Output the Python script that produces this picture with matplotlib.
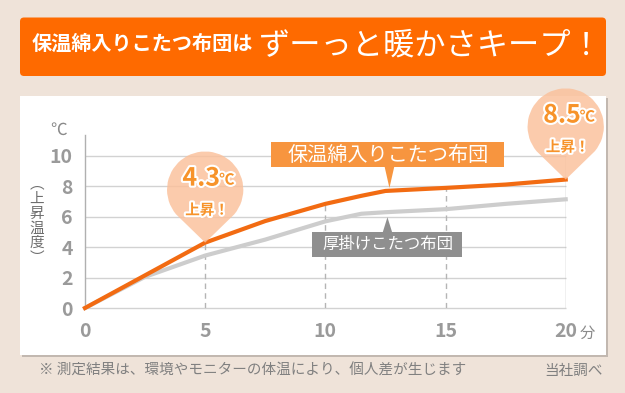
import numpy as np
import matplotlib
matplotlib.use("Agg")
import matplotlib.pyplot as plt
from matplotlib import patheffects, transforms
from matplotlib.path import Path
from matplotlib.patches import PathPatch, Rectangle, FancyBboxPatch, Polygon

plt.rcParams["font.family"] = ["Noto Sans CJK JP", "DejaVu Sans"]

# temperature rise (deg C) against minutes
minutes = [0, 2.5, 5, 7.5, 10, 11.5, 12.5, 15, 17.5, 20]
hozon_wata = [0, 2.15, 4.3, 5.72, 6.85, 7.38, 7.7, 7.9, 8.12, 8.45]
atsukake = [0, 2.05, 3.45, 4.5, 5.7, 6.2, 6.3, 6.5, 6.85, 7.15]

x_ticks = [0, 5, 10, 15, 20]
y_ticks = [0, 2, 4, 6, 8, 10]
dashed_at = [5, 10, 15]
bubble_at = [5, 20]
bubble_text = ["4.3", "8.5"]

title_small = "保温綿入りこたつ布団は"
title_big = "ずーっと暖かさキープ！"
label_hozon = "保温綿入りこたつ布団"
label_atsu = "厚掛けこたつ布団"
y_label = "︵\n上\n昇\n温\n度\n︶"
note = "※ 測定結果は、環境やモニターの体温により、個人差が生じます"
source = "当社調べ"

ORANGE = "#f26b12"
GRAY_LINE = "#cdcdcd"
GRID = "#d2d2d2"
TICK = "#9a9a9a"
DPI = 100

fig = plt.figure(figsize=(6.25, 3.93), dpi=DPI, facecolor="#efe3d9")

# background layer in pixel coords (y down)
bg = fig.add_axes([0, 0, 1, 1], zorder=0)
bg.set_xlim(0, 625)
bg.set_ylim(393, 0)
bg.axis("off")

bg.add_patch(FancyBboxPatch((20, 17.5), 586, 58.5, boxstyle="round,pad=0,rounding_size=4",
                            fc="#fe6a00", ec="none"))
bg.text(32, 43, title_small, color="white", fontsize=14.5, fontweight="bold", va="center", ha="left")
bg.text(259, 46, title_big, color="white", fontsize=22.5, va="center", ha="left")

bg.add_patch(Rectangle((21.5, 97.5), 586, 259, fc="#c2b8b0", ec="none"))
bg.add_patch(Rectangle((20, 96), 586, 259, fc="white", ec="none"))

bg.text(59, 130, "℃", color="#8a8a8a", fontsize=12, ha="center", va="center")
bg.text(37, 221, y_label, color="#6e6e6e", fontsize=10.5, ha="center", va="center", linespacing=1.07)
bg.text(39, 371, note, color="#808080", fontsize=10.5, ha="left", va="center")
bg.text(603, 371, source, color="#808080", fontsize=10.5, ha="right", va="center")

# chart
ax = fig.add_axes([85 / 625, 1 - 308 / 393, 480.7 / 625, 173 / 393], zorder=1)
ax.set_facecolor("none")
ax.set_xlim(0, 20)
ax.set_ylim(0, 11.38)
for s in ["top", "right", "bottom"]:
    ax.spines[s].set_visible(False)
ax.spines["left"].set_color("#b0b0b0")
ax.spines["left"].set_linewidth(1)

ax.hlines(y_ticks, 0, 20, color=GRID, lw=1, zorder=1, clip_on=False)
dash_tops = [hozon_wata[minutes.index(m)] for m in dashed_at]
ax.vlines(dashed_at, 0, dash_tops, color="#b5b5b5", lw=1, linestyles=(0, (4, 3)), zorder=1)
ax.vlines([20], 0, y_ticks[-1], color="#b5b5b5", lw=1, zorder=1)

ax.plot(minutes, atsukake, color=GRAY_LINE, lw=3, solid_joinstyle="round", zorder=3, clip_on=False)
ax.plot(minutes, hozon_wata, color=ORANGE, lw=3, solid_joinstyle="round", zorder=4, clip_on=False)

ax.set_xticks(x_ticks)
ax.set_yticks(y_ticks)
ax.set_xticklabels([str(v) for v in x_ticks])
ax.set_yticklabels([str(v) for v in y_ticks])
ax.tick_params(length=0, labelsize=14, labelcolor=TICK)
ax.tick_params(axis="x", pad=10)
ax.tick_params(axis="y", pad=9)
for lab in ax.get_xticklabels() + ax.get_yticklabels():
    lab.set_fontweight("bold")
ax.annotate("分", (20, 0), xytext=(22, -25), textcoords="offset pixels",
            color="#8a8a8a", fontsize=11, ha="center", va="center", annotation_clip=False)


def px_trans(x, y):
    # inches measured from a data point
    return fig.dpi_scale_trans + transforms.ScaledTranslation(x, y, ax.transData)


# tear-drop bubbles
r, d = 38 / DPI, 53 / DPI
phi = np.degrees(np.arccos(r / d))
arc = Path.arc(-90 + phi, 270 - phi)
verts = [(0, 0)] + [(r * vx, d + r * vy) for vx, vy in arc.vertices] + [(0, 0)]
drop = Path(verts)
stroke = [patheffects.withStroke(linewidth=3, foreground="white")]
for m, txt in zip(bubble_at, bubble_text):
    yv = hozon_wata[minutes.index(m)]
    ax.add_patch(PathPatch(drop, transform=px_trans(m, yv), fc="#fbc09a", ec="none",
                           alpha=0.82, zorder=5, clip_on=False))
    ax.annotate(txt, (m, yv), xytext=(15, 64), textcoords="offset pixels", ha="right", va="center",
                color="#f7932a", fontsize=18, fontweight="bold", path_effects=stroke,
                zorder=6, annotation_clip=False)
    ax.annotate("℃", (m, yv), xytext=(14, 63), textcoords="offset pixels", ha="left", va="center",
                color="#f7932a", fontsize=11, fontweight="bold", path_effects=stroke,
                zorder=6, annotation_clip=False)
    ax.annotate("上昇！", (m, yv), xytext=(2, 33), textcoords="offset pixels", ha="center", va="center",
                color="#f7932a", fontsize=10.5, fontweight="bold", path_effects=stroke,
                zorder=6, annotation_clip=False)

# series labels
i = minutes.index(12.5)
xo, yo = minutes[i], hozon_wata[i]
ax.add_patch(Rectangle((-114 / DPI, 24 / DPI), 233 / DPI, 25 / DPI, transform=px_trans(xo, yo),
                       fc="#f7953f", ec="none", zorder=5, clip_on=False))
ax.add_patch(Polygon([(-1 / DPI, 25 / DPI), (9 / DPI, 25 / DPI), (4 / DPI, 3 / DPI)],
                     transform=px_trans(xo, yo), fc="#f7953f", ec="none", zorder=5, clip_on=False))
ax.annotate(label_hozon, (xo, yo), xytext=(3, 36), textcoords="offset pixels", ha="center", va="center",
            color="white", fontsize=14.5, zorder=6, annotation_clip=False)

yg = atsukake[i]
ax.add_patch(Rectangle((-73 / DPI, -45 / DPI), 150 / DPI, 25 / DPI, transform=px_trans(xo, yg),
                       fc="#8f8f8f", ec="none", zorder=5, clip_on=False))
ax.add_patch(Polygon([(-3 / DPI, -21 / DPI), (7 / DPI, -21 / DPI), (2 / DPI, -5 / DPI)],
                     transform=px_trans(xo, yg), fc="#8f8f8f", ec="none", zorder=5, clip_on=False))
ax.annotate(label_atsu, (xo, yg), xytext=(2, -32), textcoords="offset pixels", ha="center", va="center",
            color="white", fontsize=11.8, zorder=6, annotation_clip=False)

fig.savefig("out.png", dpi=DPI, facecolor=fig.get_facecolor())
